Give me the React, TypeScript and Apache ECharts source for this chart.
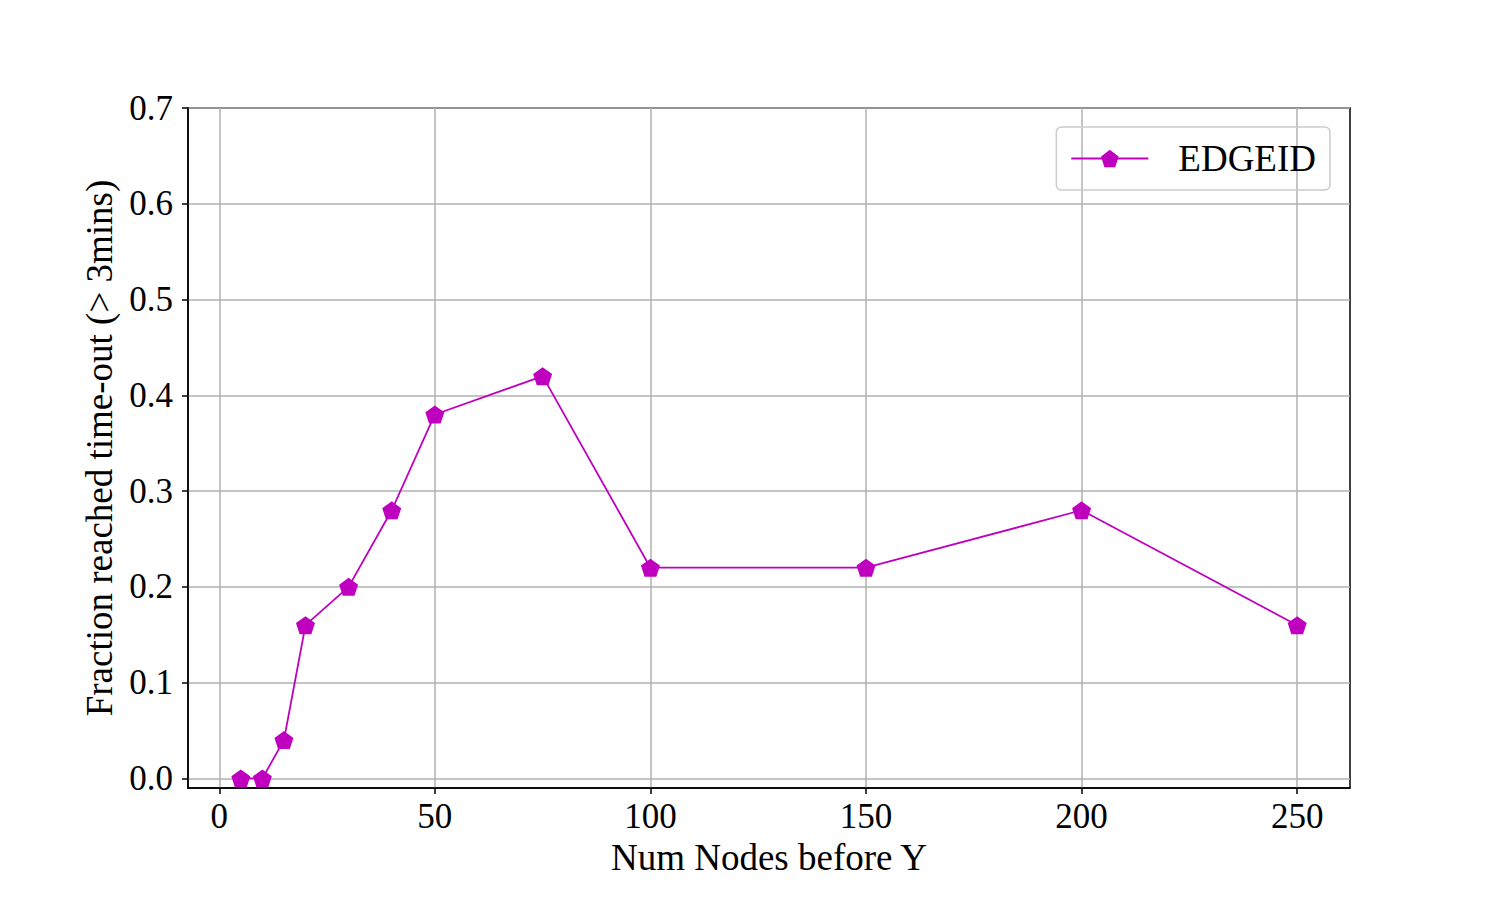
import React, { useEffect, useRef } from "react";
import * as echarts from "echarts";

const xValues = [5, 10, 15, 20, 30, 40, 50, 75, 100, 150, 200, 250];
const yValues = [0.0, 0.0, 0.04, 0.16, 0.2, 0.28, 0.38, 0.42, 0.22, 0.22, 0.28, 0.16];
const xTicks = [0, 50, 100, 150, 200, 250];
const yTicks = [0, 0.1, 0.2, 0.3, 0.4, 0.5, 0.6, 0.7];
const seriesName = "EDGEID";
const xTitle = "Num Nodes before Y";
const yTitle = "Fraction reached time-out (> 3mins)";

const FONT = '"Liberation Serif", "Times New Roman", serif';
const MAGENTA = "#bf00bf";
const PENTAGON =
  "path://M0,-1 L0.951,-0.309 L0.588,0.809 L-0.588,0.809 L-0.951,-0.309 Z";

export default function App() {
  const ref = useRef<HTMLDivElement>(null);
  useEffect(() => {
    if (!ref.current) return;
    const chart = echarts.init(ref.current, null, { renderer: "svg" });
    chart.setOption({
      animation: false,
      backgroundColor: "#ffffff",
      textStyle: { fontFamily: FONT },
      grid: {
        left: 188,
        right: 150,
        top: 108,
        bottom: 112,
        show: true,
        borderColor: "#000",
        borderWidth: 1.5,
        backgroundColor: "transparent",
      },
      legend: {
        right: 170,
        top: 127,
        padding: [13, 14, 13, 14],
        borderColor: "#cccccc",
        borderWidth: 1.5,
        borderRadius: 5,
        itemWidth: 77,
        itemHeight: 22,
        data: [seriesName],
        textStyle: {
          fontFamily: FONT,
          fontSize: 37,
          lineHeight: 35,
          color: "#000",
          padding: [0, 0, 2, 25],
        },
      },
      xAxis: {
        type: "value",
        min: -7.25,
        max: 262.25,
        name: xTitle,
        nameLocation: "middle",
        nameGap: 50,
        nameTextStyle: { fontFamily: FONT, fontSize: 37, color: "#000" },
        axisLine: { show: true, onZero: false, lineStyle: { color: "#000", width: 1.5 } },
        axisTick: {
          show: true,
          length: 6,
          lineStyle: { color: "#000", width: 1.5 },
          customValues: xTicks,
        },
        axisLabel: {
          customValues: xTicks,
          margin: 11,
          fontFamily: FONT,
          fontSize: 35,
          color: "#000",
          formatter: (v: number) => String(v),
        },
        splitLine: { show: true, lineStyle: { color: "#b0b0b0", width: 1.5 } },
      },
      yAxis: {
        type: "value",
        min: -0.01,
        max: 0.7,
        name: yTitle,
        nameLocation: "middle",
        nameGap: 70,
        nameTextStyle: { fontFamily: FONT, fontSize: 37, color: "#000" },
        axisLine: { show: true, onZero: false, lineStyle: { color: "#000", width: 1.5 } },
        axisTick: {
          show: true,
          length: 6,
          lineStyle: { color: "#000", width: 1.5 },
          customValues: yTicks,
        },
        axisLabel: {
          customValues: yTicks,
          margin: 15,
          fontFamily: FONT,
          fontSize: 35,
          color: "#000",
          formatter: (v: number) => v.toFixed(1),
        },
        splitLine: { show: true, lineStyle: { color: "#b0b0b0", width: 1.5 } },
      },
      series: [
        {
          name: seriesName,
          type: "line",
          data: xValues.map((x, i) => [x, yValues[i]]),
          symbol: PENTAGON,
          symbolSize: [19, 18],
          showAllSymbol: true,
          lineStyle: { color: MAGENTA, width: 1.8 },
          itemStyle: { color: MAGENTA },
        },
      ],
    });
    return () => chart.dispose();
  }, []);
  return (
    <div
      ref={ref}
      style={{ position: "fixed", left: 0, top: 0, width: 1500, height: 900 }}
    />
  );
}
